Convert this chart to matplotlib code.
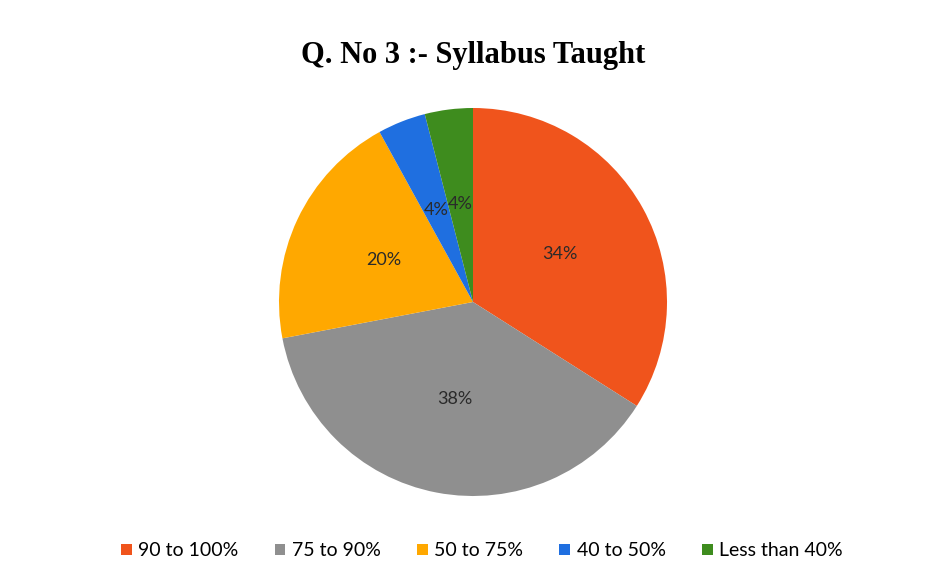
import matplotlib
matplotlib.use("Agg")
import matplotlib.pyplot as plt
from matplotlib.patches import Patch

categories = ["90 to 100%", "75 to 90%", "50 to 75%", "40 to 50%", "Less than 40%"]
values = [34, 38, 20, 4, 4]
colors = ["#F0541C", "#8F8F8F", "#FFA800", "#1F6FE0", "#3E8C1E"]
title = "Q. No 3 :- Syllabus Taught"

W, H = 927, 578
fig = plt.figure(figsize=(W / 100, H / 100), dpi=100)
fig.patch.set_facecolor("white")

cx, cy, r = 473, 302, 194
ax = fig.add_axes([(cx - r) / W, (H - cy - r) / H, 2 * r / W, 2 * r / H])
wedges, texts, autotexts = ax.pie(
    values, colors=colors, startangle=90, counterclock=False,
    autopct=lambda p: f"{p:.0f}%", pctdistance=0.51, radius=1.0,
    wedgeprops=dict(linewidth=0),
    textprops=dict(fontsize=13, color="#2a2a2a", family=["Lato", "DejaVu Sans"]),
)
ax.set_xlim(-1, 1)
ax.set_ylim(-1, 1)
ax.set_aspect("equal")
ax.axis("off")

fig.text(cx / W, 1 - 55 / H, title, ha="center", va="center",
         fontsize=22, fontweight="bold", family=["Liberation Serif", "DejaVu Serif"])

handles = [Patch(facecolor=c, edgecolor="none") for c in colors]
fig.legend(handles, categories, loc="center", bbox_to_anchor=(482 / W, 1 - 551 / H),
           ncol=5, frameon=False, handlelength=0.55, handleheight=0.55,
           handletextpad=0.35, columnspacing=1.85,
           prop=dict(family=["Lato", "DejaVu Sans"], size=14))

fig.savefig("out.png", dpi=100, facecolor="white")
